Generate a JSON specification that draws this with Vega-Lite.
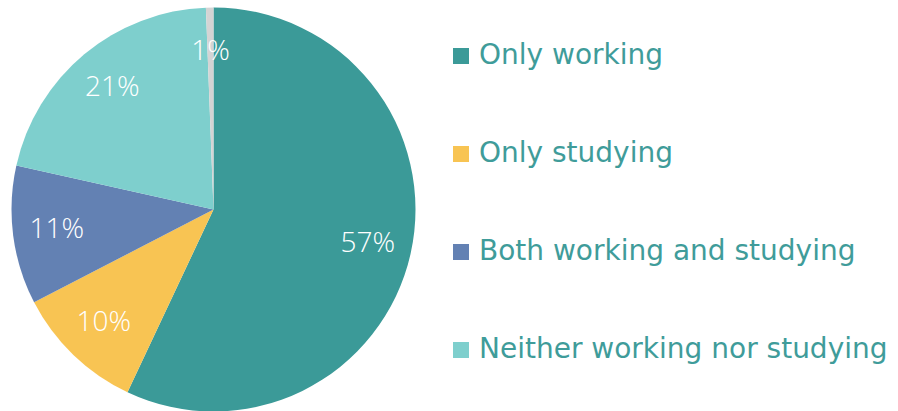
{
  "$schema": "https://vega.github.io/schema/vega-lite/v6.json",
  "width": 427,
  "height": 403,
  "padding": {"top": 8, "left": 0, "right": 471, "bottom": 0},
  "autosize": {"type": "none"},
  "background": "white",
  "config": {"view": {"stroke": null}},
  "data": {
    "values": [
      {"status": "Only working", "share": 57.0, "label": "57%", "rank": 1},
      {"status": "Only studying", "share": 10.4, "label": "10%", "rank": 2},
      {"status": "Both working and studying", "share": 11.1, "label": "11%", "rank": 3},
      {"status": "Neither working nor studying", "share": 20.9, "label": "21%", "rank": 4},
      {"status": "Other", "share": 0.6, "label": "1%", "rank": 5}
    ]
  },
  "encoding": {
    "theta": {"field": "share", "type": "quantitative", "stack": true},
    "order": {"field": "rank", "type": "quantitative"}
  },
  "layer": [
    {
      "mark": {"type": "arc", "outerRadius": 202},
      "encoding": {
        "color": {
          "field": "status",
          "type": "nominal",
          "scale": {
            "domain": ["Only working", "Only studying", "Both working and studying", "Neither working nor studying", "Other"],
            "range": ["#3b9a98", "#f8c453", "#6381b3", "#7ecfcd", "#d4d4d4"]
          },
          "legend": {
            "values": ["Only working", "Only studying", "Both working and studying", "Neither working nor studying"],
            "title": null,
            "orient": "none",
            "legendX": 447,
            "legendY": 34,
            "symbolType": "square",
            "symbolSize": 256,
            "symbolStrokeWidth": 0,
            "labelFont": "DejaVu Sans",
            "labelFontSize": 28,
            "labelColor": "#3f9c9a",
            "labelOffset": 4,
            "labelLimit": 500,
            "rowPadding": 70
          }
        }
      }
    },
    {
      "mark": {"type": "text", "radius": 158, "font": "Open Sans", "fontSize": 28, "fontWeight": 300, "color": "white"},
      "encoding": {
        "text": {"field": "label", "type": "nominal"}
      }
    }
  ]
}
